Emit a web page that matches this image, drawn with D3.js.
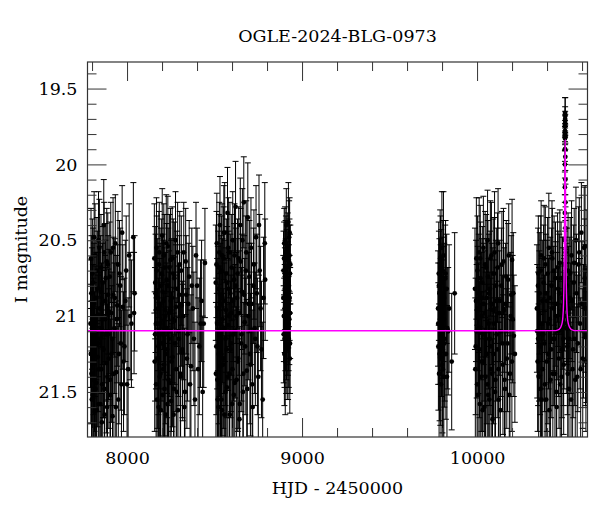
<!DOCTYPE html>
<html>
<head>
<meta charset="utf-8">
<script src="https://cdn.jsdelivr.net/npm/d3@7"></script>
<style>
  body { margin: 0; background: #fff; }
  text { font-family: "DejaVu Serif", serif; fill: #000; }
</style>
</head>
<body>
<div class="canvas"></div>
<script>

// light curve, one array per observing season: [HJD - 2450000, I mag, error]
const season1 = [
  [7791,21.05,.42],[7794,20.62,.33],[7797,21.38,.48],[7800,20.95,.40],[7803,21.52,.50],[7806,20.78,.36],
  [7809,21.20,.45],[7812,20.48,.30],[7815,21.63,.52],[7818,21.10,.43],[7822,20.88,.38],[7825,21.44,.49],
  [7828,20.70,.35],[7832,21.27,.46],[7835,20.99,.41],[7838,21.58,.51],[7842,20.55,.32],[7845,21.15,.44],
  [7849,20.84,.37],[7852,21.35,.47],[7856,21.70,.50],[7859,20.92,.40],[7863,21.22,.45],[7867,20.40,.30],
  [7870,21.48,.49],[7874,21.02,.42],[7878,20.75,.36],[7882,21.31,.46],[7886,21.60,.51],[7890,20.66,.34],
  [7894,21.12,.43],[7898,20.97,.41],[7903,21.42,.48],[7907,20.58,.33],[7912,21.25,.45],[7917,21.66,.52],
  [7922,20.86,.38],[7927,21.08,.43],[7933,20.52,.32],[7938,21.37,.47],[7944,20.93,.40],[7950,21.55,.50],
  [7957,20.72,.35],[7964,21.18,.44],[7972,20.45,.31],[7980,21.30,.46],[7990,20.90,.40],[8000,21.45,.49],
  [8012,20.60,.34],[8025,21.05,.42],[8036,20.48,.36],[8040,20.98,.40],[8043,20.85,.38],
  [7793,21.25,.46],[7796,20.85,.38],[7799,21.55,.51],[7802,20.72,.36],[7805,21.10,.44],[7808,21.42,.48],
  [7811,20.92,.40],[7814,21.30,.46],[7817,20.60,.34],[7820,21.48,.49],[7824,21.00,.42],[7827,21.62,.52],
  [7830,20.82,.38],[7834,21.18,.45],[7837,20.50,.32],[7840,21.35,.47],[7844,20.95,.41],[7847,21.58,.51],
  [7851,20.68,.35],[7854,21.08,.43],[7858,21.45,.49],[7861,20.78,.37],[7865,21.22,.45],[7869,20.58,.33],
  [7872,21.65,.52],[7876,20.90,.40],[7880,21.12,.44],[7884,20.64,.35],[7888,21.40,.48],[7892,20.86,.39],
  [7896,21.28,.46],[7901,20.74,.36],[7905,21.52,.50],[7910,20.98,.41],[7915,21.15,.44],[7920,20.55,.33],
  [7925,21.38,.47],[7930,20.88,.39],[7936,21.60,.52],[7942,21.02,.42],[7948,20.66,.35],[7954,21.25,.46],
  [7961,20.80,.38],[7968,21.45,.49],[7976,20.94,.41],[7985,21.20,.45],[7995,20.70,.36],[8006,21.35,.47],
  [8018,21.00,.42]
];
const season2 = [
  [8156,20.62,.36],[8160,21.12,.44],[8163,20.85,.39],[8166,21.45,.49],[8170,20.70,.36],[8173,21.28,.46],
  [8177,20.95,.41],[8180,21.60,.52],[8184,20.58,.33],[8187,21.05,.43],[8191,21.38,.47],[8194,20.80,.38],
  [8198,21.18,.45],[8201,20.47,.31],[8205,21.52,.50],[8208,20.90,.40],[8212,21.32,.47],[8215,20.68,.35],
  [8219,21.00,.42],[8222,21.65,.52],[8226,20.76,.37],[8229,21.22,.45],[8233,20.54,.33],[8237,21.42,.48],
  [8240,20.98,.41],[8244,21.10,.43],[8248,20.63,.34],[8252,21.56,.51],[8256,20.88,.39],[8260,21.27,.46],
  [8264,20.72,.36],[8268,21.48,.50],[8272,21.03,.42],[8277,20.50,.32],[8281,21.35,.47],[8286,20.82,.38],
  [8291,21.62,.52],[8296,21.15,.44],[8301,20.66,.35],[8306,21.40,.48],[8312,20.93,.40],[8318,21.24,.45],
  [8324,20.58,.33],[8331,21.50,.50],[8338,20.86,.39],[8346,21.12,.44],[8355,20.74,.37],[8365,21.33,.47],
  [8376,20.95,.41],[8388,21.55,.51],[8400,20.80,.38],[8413,21.20,.45],[8426,20.90,.40],[8438,21.05,.42],
  [8445,20.65,.36],
  [8158,21.30,.46],[8161,20.78,.37],[8165,21.05,.43],[8168,20.55,.33],[8172,21.55,.51],[8175,20.88,.39],
  [8179,21.20,.45],[8182,20.66,.35],[8186,21.40,.48],[8189,20.92,.40],[8193,21.62,.52],[8196,20.72,.36],
  [8200,21.12,.44],[8203,20.84,.38],[8207,21.35,.47],[8210,20.60,.34],[8214,21.48,.49],[8217,20.96,.41],
  [8221,21.25,.46],[8224,20.52,.32],[8228,21.08,.43],[8231,21.58,.51],[8235,20.80,.38],[8239,21.15,.44],
  [8242,20.68,.35],[8246,21.44,.48],[8250,20.90,.40],[8254,21.30,.46],[8258,20.62,.34],[8262,21.02,.42],
  [8266,21.65,.52],[8270,20.75,.37],[8275,21.18,.45],[8279,20.94,.41],[8284,21.50,.50],[8289,20.58,.33],
  [8294,21.10,.43],[8299,20.86,.39],[8304,21.38,.47],[8310,20.70,.36],[8316,21.22,.45],[8322,21.00,.42],
  [8328,21.60,.52],[8335,20.64,.35],[8342,21.28,.46],[8350,20.92,.40],[8360,21.45,.49],[8370,20.80,.38],
  [8382,21.15,.44],[8394,20.60,.35],[8406,21.35,.47],[8420,21.05,.42],[8432,21.50,.50]
];
const season3 = [
  [8507,20.78,.38],[8510,21.20,.45],[8513,20.52,.33],[8516,21.42,.48],[8519,20.95,.41],[8522,21.60,.52],
  [8525,20.68,.35],[8528,21.10,.43],[8531,20.40,.32],[8534,21.33,.47],[8537,20.86,.39],[8540,21.55,.51],
  [8543,20.60,.34],[8546,21.02,.42],[8550,21.28,.46],[8553,20.45,.31],[8556,21.65,.52],[8560,20.90,.40],
  [8563,21.15,.44],[8567,20.72,.36],[8570,21.47,.49],[8574,20.32,.30],[8577,21.06,.43],[8581,20.82,.38],
  [8585,21.38,.47],[8588,20.58,.33],[8592,21.22,.45],[8596,20.98,.41],[8600,21.58,.51],[8604,20.50,.32],
  [8608,21.12,.44],[8612,20.76,.37],[8616,21.44,.48],[8620,20.28,.30],[8624,21.00,.42],[8629,20.88,.39],
  [8633,21.30,.46],[8638,20.62,.34],[8642,21.68,.53],[8647,20.40,.31],[8652,21.18,.45],[8657,20.84,.38],
  [8662,21.50,.50],[8667,20.25,.30],[8672,21.04,.42],[8678,20.70,.36],[8684,21.36,.47],[8690,20.35,.36],
  [8696,20.92,.40],[8702,21.25,.46],[8708,20.55,.33],[8715,21.45,.49],[8722,20.80,.38],[8729,21.08,.43],
  [8737,20.48,.34],[8745,21.20,.45],[8754,20.40,.33],[8763,20.95,.41],[8775,21.55,.51],[8787,20.52,.40],
  [8789,20.76,.40],
  [8508,21.38,.47],[8511,20.66,.35],[8515,21.05,.43],[8518,21.55,.51],[8521,20.82,.38],[8524,21.25,.46],
  [8527,20.58,.33],[8530,21.45,.49],[8533,20.92,.40],[8536,21.15,.44],[8539,20.70,.36],[8542,21.62,.52],
  [8545,20.88,.39],[8548,21.32,.47],[8552,20.62,.34],[8555,21.08,.43],[8558,20.45,.33],[8562,21.50,.50],
  [8565,20.96,.41],[8569,21.22,.45],[8572,20.78,.37],[8576,21.40,.48],[8579,20.55,.33],[8583,21.00,.42],
  [8587,21.65,.52],[8590,20.85,.39],[8594,21.18,.45],[8598,20.68,.35],[8602,21.35,.47],[8606,20.90,.40],
  [8610,21.52,.50],[8614,20.60,.34],[8618,21.10,.44],[8622,20.80,.38],[8626,21.42,.48],[8631,20.72,.36],
  [8635,21.28,.46],[8640,20.98,.41],[8644,21.58,.51],[8649,20.64,.35],[8654,21.12,.44],[8659,20.50,.34],
  [8664,21.38,.47],[8669,20.86,.39],[8675,21.20,.45],[8681,20.58,.34],[8687,21.48,.49],[8693,21.00,.42],
  [8699,20.74,.37],[8705,21.32,.47],[8711,20.92,.40],[8718,21.60,.52],[8725,20.66,.36],[8733,21.15,.44],
  [8741,20.85,.39],[8750,21.40,.48],[8758,20.70,.37],[8768,21.22,.45],[8780,20.88,.40]
];
const season4 = [
  [8893,20.88,.28],[8895,21.12,.32],[8897,20.62,.24],[8899,21.25,.34],[8901,20.95,.29],[8903,20.50,.22],
  [8905,21.05,.31],[8907,20.75,.26],[8908,20.58,.24],[8909,21.18,.33],[8910,20.40,.24],[8912,20.98,.30],
  [8913,20.68,.25],[8914,20.90,.29],[8915,21.22,.33],[8916,20.85,.28],[8918,20.55,.23],[8919,21.08,.31],
  [8920,21.20,.35],[8921,20.92,.29],[8922,20.38,.26],[8924,21.15,.32],[8925,20.80,.27],[8926,20.65,.25],
  [8927,21.02,.30],[8928,20.60,.24],[8929,20.45,.23],[8930,21.28,.36],[8931,20.72,.26],[8932,20.98,.30],
  [8894,20.70,.26],[8896,21.00,.30],[8898,20.52,.23],[8900,21.15,.32],[8902,20.82,.27],[8904,21.30,.35],
  [8906,20.62,.25],[8911,21.10,.32],[8917,20.78,.27],[8923,21.05,.31],[8926,20.48,.24],[8929,20.88,.28],
  [8931,21.18,.33],[8933,20.66,.26]
];
const season5 = [
  [9777,20.95,.38],[9779,21.20,.42],[9781,20.72,.34],[9783,21.38,.46],[9785,20.85,.36],[9787,21.05,.40],
  [9789,20.62,.32],[9790,21.28,.44],[9792,20.90,.37],[9794,21.45,.48],[9795,20.78,.35],[9797,21.12,.41],
  [9799,20.55,.37],[9800,20.98,.38],[9802,21.32,.45],[9804,20.70,.33],[9806,21.02,.39],[9808,20.60,.42],
  [9810,21.40,.47],[9812,20.88,.36],[9815,21.15,.41],[9818,20.75,.35],[9822,21.25,.43],[9826,20.82,.36],
  [9830,21.08,.40],[9840,20.95,.42],[9855,21.30,.45],[9872,20.85,.40],
  [9778,21.05,.40],[9782,20.80,.36],[9786,21.25,.44],[9791,20.68,.34],[9796,21.00,.39],[9801,20.85,.37],
  [9805,21.35,.46],[9809,20.92,.38],[9813,21.18,.42],[9820,20.72,.35],[9828,21.40,.47],[9835,21.10,.42]
];
const season6 = [
  [9988,20.82,.40],[9992,21.20,.45],[9996,20.62,.40],[10000,21.45,.49],[10004,20.95,.41],[10008,21.08,.43],
  [10012,20.58,.36],[10016,21.58,.51],[10020,20.75,.37],[10024,21.30,.46],[10028,20.88,.39],[10032,21.62,.52],
  [10036,20.55,.34],[10040,21.12,.44],[10044,20.98,.41],[10048,21.40,.48],[10052,20.68,.35],[10056,21.25,.46],
  [10060,20.50,.33],[10064,21.52,.50],[10068,20.85,.39],[10072,21.15,.44],[10076,20.62,.38],[10080,21.35,.47],
  [10084,20.92,.40],[10088,21.68,.53],[10092,20.72,.36],[10096,21.05,.42],[10100,20.58,.40],[10105,21.42,.48],
  [10110,20.80,.38],[10115,21.22,.45],[10120,20.52,.36],[10125,21.55,.51],[10130,20.90,.40],[10136,21.10,.43],
  [10142,20.66,.35],[10148,21.32,.46],[10154,20.96,.41],[10160,21.48,.49],[10167,20.74,.37],[10174,21.18,.45],
  [10181,20.60,.34],[10188,21.38,.47],[10195,20.86,.39],[10200,20.63,.40],[10203,21.02,.42],[10210,21.13,.40],
  [10216,21.25,.45],
  [9990,21.35,.47],[9994,20.90,.40],[9998,21.10,.44],[10002,20.70,.36],[10006,21.52,.50],[10010,20.85,.39],
  [10014,21.22,.45],[10018,20.62,.35],[10022,21.40,.48],[10026,21.00,.42],[10030,20.78,.37],[10034,21.30,.46],
  [10038,20.92,.40],[10042,21.60,.52],[10046,20.66,.35],[10050,21.15,.44],[10054,20.88,.39],[10058,21.45,.49],
  [10062,20.74,.37],[10066,21.05,.43],[10070,21.55,.51],[10074,20.82,.38],[10078,21.20,.45],[10082,20.60,.35],
  [10086,21.38,.47],[10090,20.96,.41],[10094,21.25,.46],[10098,20.72,.37],[10102,21.50,.50],[10107,20.90,.40],
  [10112,21.12,.44],[10117,20.68,.36],[10122,21.35,.47],[10127,20.98,.41],[10133,21.62,.52],[10139,20.80,.38],
  [10145,21.18,.45],[10151,20.64,.35],[10157,21.42,.48],[10163,20.92,.40],[10170,21.28,.46],[10177,20.76,.37],
  [10184,21.52,.50],[10192,21.00,.42],[10199,21.30,.46],[10207,20.85,.40]
];
const season7 = [
  [10342,20.95,.42],[10346,21.30,.46],[10349,21.15,.44],[10350,20.72,.38],[10354,21.12,.44],[10358,20.85,.40],
  [10362,21.48,.49],[10366,20.60,.36],[10370,21.05,.43],[10375,21.35,.47],[10380,20.78,.38],[10385,21.18,.45],
  [10390,20.66,.38],[10395,21.55,.51],[10400,20.90,.40],[10405,21.25,.46],[10410,20.55,.36],[10415,21.02,.42],
  [10420,21.42,.48],[10425,20.80,.38],[10430,20.62,.33],[10435,21.15,.44],[10440,20.70,.36],[10445,21.38,.47],
  [10450,20.92,.41],[10455,21.60,.52],[10460,20.68,.36],[10465,21.10,.43],[10470,20.85,.39],[10475,21.45,.49],
  [10480,20.75,.37],[10485,21.22,.45],[10490,20.95,.40],[10495,21.32,.46],
  [10512,20.92,.40],[10516,21.20,.45],[10520,20.70,.38],[10525,21.48,.50],[10530,20.88,.40],[10535,21.08,.43],
  [10540,20.60,.36],[10546,21.35,.47],[10552,20.78,.38],[10558,21.15,.44],[10565,20.50,.35],[10572,21.40,.48],
  [10580,20.66,.38],[10588,21.05,.43],[10596,20.45,.33],[10604,21.28,.46],[10612,20.55,.40],[10617,20.54,.40],
  [10618,20.95,.42],[10620,21.14,.45],[10624,21.12,.45],[10628,20.70,.40],
  [10344,21.10,.44],[10348,20.80,.38],[10352,21.40,.48],[10356,20.98,.41],[10360,21.20,.45],[10364,20.70,.36],
  [10368,21.55,.51],[10373,20.90,.40],[10378,21.12,.44],[10383,20.62,.35],[10388,21.45,.49],[10393,20.85,.39],
  [10398,21.30,.46],[10403,20.72,.37],[10408,21.05,.43],[10413,21.62,.52],[10418,20.88,.40],[10423,21.22,.45],
  [10428,20.58,.34],[10433,21.38,.47],[10438,20.95,.41],[10443,21.15,.44],[10448,20.75,.37],[10453,21.50,.50],
  [10458,21.00,.42],[10463,20.82,.38],[10468,21.28,.46],[10473,20.65,.35],[10478,21.08,.43],[10483,21.40,.48],
  [10488,20.88,.40],[10493,21.15,.44],[10497,21.05,.43],
  [10510,21.08,.43],[10514,20.80,.38],[10518,21.38,.47],[10522,20.95,.41],[10527,21.15,.44],[10532,20.72,.37],
  [10537,21.55,.51],[10543,20.90,.40],[10549,21.22,.45],[10555,20.65,.36],[10561,21.42,.48],[10568,20.85,.39],
  [10576,21.18,.45],[10584,20.58,.36],[10592,21.35,.47],[10600,20.92,.41],[10608,21.10,.44],[10615,20.75,.39],
  [10622,21.30,.46]
];
// points on the event itself
const eventPeak = [
  [10503.0,19.66,.10],[10503.2,19.70,.08],[10503.4,19.72,.07],[10502.8,19.75,.07],[10503.6,19.68,.12],
  [10502.6,19.78,.07],[10503.8,19.74,.07],[10503.1,19.80,.07],[10502.4,19.83,.08],[10504.0,19.82,.08],
  [10502.2,19.90,.08],[10504.3,19.95,.09],[10502.0,20.00,.09],[10504.6,20.10,.10],[10501.7,20.15,.10],
  [10505.0,20.25,.12],[10501.4,20.32,.12],[10505.4,20.42,.14],[10501.0,20.50,.15],[10505.8,20.58,.16],
  [10500.5,20.66,.18],[10506.5,20.75,.20],[10500.0,20.82,.22],[10507.5,20.90,.25],[10499.0,20.95,.28],
  [10509.0,21.00,.30]
];

// microlensing model curve
const modelHjd = [7774, 10440, 10460, 10470, 10480, 10486, 10490, 10494, 10497, 10499, 10501, 10503.2,
                  10505.4, 10507.4, 10509.4, 10512.4, 10516.4, 10520.4, 10526.4, 10536.4, 10546.4, 10566, 10631];
const modelMag = [21.097, 21.096, 21.092, 21.086, 21.068, 21.045, 21.01, 20.92, 20.75, 20.52, 20.18, 19.84,
                  20.18, 20.52, 20.75, 20.92, 21.01, 21.045, 21.068, 21.086, 21.092, 21.096, 21.097];

const xMajorTicks = [8000, 9000, 10000];
const xMinorTicks = [7800, 8200, 8400, 8600, 8800, 9200, 9400, 9600, 9800, 10200, 10400, 10600];
const yMajorTicks = [19.5, 20, 20.5, 21, 21.5];
const yMinorTicks = [19.4, 19.6, 19.7, 19.8, 19.9, 20.1, 20.2, 20.3, 20.4, 20.6, 20.7, 20.8, 20.9,
                     21.1, 21.2, 21.3, 21.4, 21.6, 21.7];

(function () {
    const WIDTH = 600;
    const HEIGHT = 512;
    const PLOT_LEFT = 87.5;
    const PLOT_RIGHT = 587.5;
    const PLOT_TOP = 62;
    const PLOT_BOTTOM = 437;
    const MAJOR_TICK = 19;
    const MINOR_TICK = 9;
    const CAP = 3;
    const FONT_SIZE = "17.5px";
    const AXIS_COLOR = "#333";

    const svg = d3.select(".canvas").append("svg")
        .attr("width", WIDTH)
        .attr("height", HEIGHT)
        .style("background", "#fff");

    const x = d3.scaleLinear().domain([7774, 10631]).range([PLOT_LEFT, PLOT_RIGHT]);
    const y = d3.scaleLinear().domain([19.325, 21.797]).range([PLOT_TOP, PLOT_BOTTOM]);

    svg.append("clipPath").attr("id", "plot-clip")
        .append("rect")
        .attr("x", PLOT_LEFT).attr("y", PLOT_TOP)
        .attr("width", PLOT_RIGHT - PLOT_LEFT).attr("height", PLOT_BOTTOM - PLOT_TOP);

    const points = [season1, season2, season3, season4, season5, season6, season7, eventPeak]
        .flat()
        .map(function (p) { return { t: p[0], mag: p[1], err: p[2] }; });

    const data = svg.append("g").attr("clip-path", "url(#plot-clip)");

    const bars = data.append("g")
        .attr("stroke", "#000")
        .attr("stroke-width", 1)
        .selectAll("g.bar")
        .data(points)
        .enter()
        .append("g")
        .attr("class", "bar");

    bars.append("line")
        .attr("x1", function (d) { return x(d.t); })
        .attr("x2", function (d) { return x(d.t); })
        .attr("y1", function (d) { return y(d.mag - d.err); })
        .attr("y2", function (d) { return y(d.mag + d.err); });
    bars.append("line")
        .attr("x1", function (d) { return x(d.t) - CAP; })
        .attr("x2", function (d) { return x(d.t) + CAP; })
        .attr("y1", function (d) { return y(d.mag - d.err); })
        .attr("y2", function (d) { return y(d.mag - d.err); });
    bars.append("line")
        .attr("x1", function (d) { return x(d.t) - CAP; })
        .attr("x2", function (d) { return x(d.t) + CAP; })
        .attr("y1", function (d) { return y(d.mag + d.err); })
        .attr("y2", function (d) { return y(d.mag + d.err); });

    data.append("g")
        .selectAll("circle")
        .data(points)
        .enter()
        .append("circle")
        .attr("cx", function (d) { return x(d.t); })
        .attr("cy", function (d) { return y(d.mag); })
        .attr("r", 2.4)
        .attr("fill", "#000");

    const model = modelHjd.map(function (t, i) { return [t, modelMag[i]]; });
    data.append("path")
        .datum(model)
        .attr("fill", "none")
        .attr("stroke", "#ff00ff")
        .attr("stroke-width", 1.4)
        .attr("d", d3.line()
            .x(function (d) { return x(d[0]); })
            .y(function (d) { return y(d[1]); })
            .curve(d3.curveMonotoneX));

    // axes: ticks point inward on all four sides
    function styleAxis(g) {
        g.select(".domain").remove();
        g.selectAll(".tick line").attr("stroke", AXIS_COLOR);
        g.selectAll("text").style("font-size", FONT_SIZE).attr("fill", "#000");
    }

    svg.append("g")
        .attr("transform", "translate(0," + PLOT_BOTTOM + ")")
        .call(d3.axisBottom(x).tickValues(xMajorTicks).tickSizeInner(-MAJOR_TICK).tickSizeOuter(0)
            .tickPadding(15).tickFormat(d3.format("d")))
        .call(styleAxis);
    svg.append("g")
        .attr("transform", "translate(0," + PLOT_BOTTOM + ")")
        .call(d3.axisBottom(x).tickValues(xMinorTicks).tickSizeInner(-MINOR_TICK).tickSizeOuter(0).tickFormat(""))
        .call(styleAxis);
    svg.append("g")
        .attr("transform", "translate(0," + PLOT_TOP + ")")
        .call(d3.axisTop(x).tickValues(xMajorTicks).tickSizeInner(-MAJOR_TICK).tickSizeOuter(0).tickFormat(""))
        .call(styleAxis);
    svg.append("g")
        .attr("transform", "translate(0," + PLOT_TOP + ")")
        .call(d3.axisTop(x).tickValues(xMinorTicks).tickSizeInner(-MINOR_TICK).tickSizeOuter(0).tickFormat(""))
        .call(styleAxis);

    svg.append("g")
        .attr("transform", "translate(" + PLOT_LEFT + ",0)")
        .call(d3.axisLeft(y).tickValues(yMajorTicks).tickSizeInner(-MAJOR_TICK).tickSizeOuter(0)
            .tickPadding(10).tickFormat(function (d) { return d; }))
        .call(styleAxis);
    svg.append("g")
        .attr("transform", "translate(" + PLOT_LEFT + ",0)")
        .call(d3.axisLeft(y).tickValues(yMinorTicks).tickSizeInner(-MINOR_TICK).tickSizeOuter(0).tickFormat(""))
        .call(styleAxis);
    svg.append("g")
        .attr("transform", "translate(" + PLOT_RIGHT + ",0)")
        .call(d3.axisRight(y).tickValues(yMajorTicks).tickSizeInner(-MAJOR_TICK).tickSizeOuter(0).tickFormat(""))
        .call(styleAxis);
    svg.append("g")
        .attr("transform", "translate(" + PLOT_RIGHT + ",0)")
        .call(d3.axisRight(y).tickValues(yMinorTicks).tickSizeInner(-MINOR_TICK).tickSizeOuter(0).tickFormat(""))
        .call(styleAxis);

    svg.append("rect")
        .attr("x", PLOT_LEFT).attr("y", PLOT_TOP)
        .attr("width", PLOT_RIGHT - PLOT_LEFT).attr("height", PLOT_BOTTOM - PLOT_TOP)
        .attr("fill", "none")
        .attr("stroke", AXIS_COLOR)
        .attr("stroke-width", 1.2);

    svg.append("text")
        .attr("x", (PLOT_LEFT + PLOT_RIGHT) / 2)
        .attr("y", 42)
        .attr("text-anchor", "middle")
        .style("font-size", FONT_SIZE)
        .text("OGLE-2024-BLG-0973");

    svg.append("text")
        .attr("x", (PLOT_LEFT + PLOT_RIGHT) / 2)
        .attr("y", 494)
        .attr("text-anchor", "middle")
        .style("font-size", FONT_SIZE)
        .text("HJD - 2450000");

    svg.append("text")
        .attr("transform", "translate(27," + ((PLOT_TOP + PLOT_BOTTOM) / 2) + ") rotate(-90)")
        .attr("text-anchor", "middle")
        .style("font-size", FONT_SIZE)
        .text("I magnitude");
})();

</script>
</body>
</html>
